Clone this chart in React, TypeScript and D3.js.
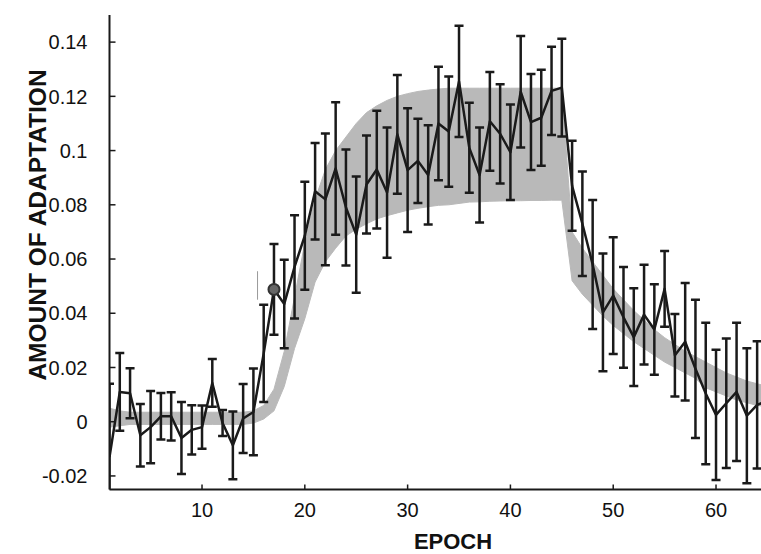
import * as d3 from 'd3';

const W = 761;
const H = 554;

// epochs 1..65
const epochs = d3.range(1, 66);

// mean adaptation per epoch
const meanAdapt = [
  -0.013, 0.011, 0.0105, -0.005, -0.002, 0.002, 0.002, -0.006, -0.003, -0.002,
  0.0143, -0.0005, -0.0087, 0.0012, 0.0036, 0.0252, 0.0488, 0.0434, 0.0571, 0.0686,
  0.085, 0.082, 0.0934, 0.079, 0.069, 0.0875, 0.093, 0.0845, 0.106, 0.0928,
  0.0962, 0.091, 0.11, 0.107, 0.1255, 0.101, 0.091, 0.1108, 0.1062, 0.0994,
  0.1217, 0.1105, 0.1121, 0.122, 0.1232, 0.087, 0.073, 0.058, 0.0403, 0.0465,
  0.0385, 0.0312, 0.0395, 0.034, 0.049, 0.0245, 0.0295, 0.0195, 0.0104, 0.0025,
  0.0068, 0.011, 0.0022, 0.0062, 0.0077,
];

// error bar half-width
const semAdapt = [
  0.027, 0.0143, 0.0092, 0.0115, 0.0133, 0.0086, 0.0089, 0.0133, 0.0091, 0.008,
  0.0088, 0.0048, 0.0125, 0.0127, 0.016, 0.0179, 0.0167, 0.0163, 0.019, 0.0199,
  0.0178, 0.0243, 0.0244, 0.0214, 0.0214, 0.0181, 0.0217, 0.024, 0.0219, 0.0228,
  0.0155, 0.0183, 0.0209, 0.0203, 0.0205, 0.0166, 0.0175, 0.0182, 0.0183, 0.0176,
  0.0206, 0.0177, 0.0177, 0.0163, 0.018, 0.0166, 0.0193, 0.0238, 0.0217, 0.0215,
  0.0186, 0.018, 0.0184, 0.0167, 0.014, 0.0152, 0.0217, 0.0255, 0.0261, 0.024,
  0.0239, 0.0255, 0.0249, 0.0235, 0.0188,
];

// model band (gray), upper and lower edge per epoch
const bandUpper = [
  0.005, 0.004, 0.0035, 0.0035, 0.0035, 0.0035, 0.0035, 0.0035, 0.0035, 0.0035,
  0.0035, 0.0035, 0.0035, 0.0035, 0.004, 0.006, 0.012, 0.026, 0.046, 0.066,
  0.082, 0.093, 0.1, 0.105, 0.11, 0.114, 0.1165, 0.1185, 0.12, 0.121,
  0.1218, 0.1223, 0.1227, 0.123, 0.123, 0.123, 0.123, 0.123, 0.123, 0.123,
  0.123, 0.123, 0.123, 0.123, 0.123, 0.07, 0.064, 0.059, 0.054, 0.049,
  0.045, 0.041, 0.0375, 0.034, 0.031, 0.0285, 0.026, 0.024, 0.022, 0.02,
  0.018, 0.0165, 0.015, 0.014, 0.013,
];

const bandLower = [
  -0.002, -0.0015, -0.001, -0.001, -0.001, -0.001, -0.001, -0.001, -0.001, -0.001,
  -0.001, -0.001, -0.001, -0.001, -0.0005, 0.001, 0.004, 0.013, 0.027, 0.038,
  0.0515, 0.059, 0.064, 0.0685, 0.071, 0.073, 0.0748, 0.076, 0.077, 0.078,
  0.0787, 0.0793, 0.0798, 0.08, 0.0805, 0.081, 0.0811, 0.0813, 0.0814, 0.0815,
  0.0815, 0.0816, 0.0816, 0.0817, 0.0817, 0.052, 0.047, 0.043, 0.039, 0.0355,
  0.0325, 0.0295, 0.027, 0.0245, 0.022, 0.02, 0.018, 0.016, 0.0125, 0.011,
  0.0095, 0.008, 0.007, 0.006, 0.0055,
];

const xTicks = [10, 20, 30, 40, 50, 60];
const yTicks = [-0.02, 0, 0.02, 0.04, 0.06, 0.08, 0.1, 0.12, 0.14];

// highlighted epoch (circle) and thin gray marker
const markedEpoch = 17;
const thinMarker = { epoch: 15.4, from: 0.045, to: 0.0555 };

const FONT = '"Liberation Sans", Arial, Helvetica, sans-serif';
const INK = '#1a1a1a';

// plain hyphen for negatives, like the original figure
const fmtY = (v: number) => d3.format('~g')(v).replace('\u2212', '-');

export default function App() {
  const left = 109.5;
  const top = 15;
  const bottom = 489.5;

  const x = d3.scaleLinear().domain([1, 65]).range([left, left + 64 * 10.28]);
  const y = d3.scaleLinear().domain([-0.025, 0.15]).range([bottom, top]);

  const rows = epochs.map((e, i) => ({
    e,
    m: meanAdapt[i],
    s: semAdapt[i],
    lo: bandLower[i],
    hi: bandUpper[i],
  }));

  const band = d3
    .area<any>()
    .x((d) => x(d.e))
    .y0((d) => y(d.lo))
    .y1((d) => y(d.hi));

  const meanLine = d3
    .line<any>()
    .x((d) => x(d.e))
    .y((d) => y(d.m));

  const cap = 4.5;
  const mark = rows.find((r) => r.e === markedEpoch)!;

  return (
    <div style={{ position: 'absolute', left: 0, top: 0, width: W, height: H, overflow: 'hidden', background: '#fff' }}>
      <svg width={W} height={H} style={{ display: 'block' }}>
        <defs>
          <clipPath id="plot">
            <rect x={left} y={top - 12} width={W - left + 20} height={bottom - top + 12} />
          </clipPath>
        </defs>

        <g clipPath="url(#plot)">
          <path d={band(rows) || ''} fill="#b9b9b9" stroke="#b9b9b9" strokeWidth={1} />

          <line
            x1={x(thinMarker.epoch)}
            x2={x(thinMarker.epoch)}
            y1={y(thinMarker.to)}
            y2={y(thinMarker.from)}
            stroke="#999"
            strokeWidth={1}
          />

          {rows.map((r) => (
            <g key={r.e} stroke={INK} strokeWidth={2.5} fill="none">
              <line x1={x(r.e)} x2={x(r.e)} y1={y(r.m + r.s)} y2={y(r.m - r.s)} />
              <line x1={x(r.e) - cap} x2={x(r.e) + cap} y1={y(r.m + r.s)} y2={y(r.m + r.s)} />
              <line x1={x(r.e) - cap} x2={x(r.e) + cap} y1={y(r.m - r.s)} y2={y(r.m - r.s)} />
            </g>
          ))}

          <path d={meanLine(rows) || ''} fill="none" stroke={INK} strokeWidth={2.5} strokeLinejoin="round" />

          <circle cx={x(mark.e)} cy={y(mark.m)} r={5.5} fill="#666" stroke="#333" strokeWidth={2} />
        </g>

        {/* axes */}
        <line x1={left} x2={W} y1={bottom} y2={bottom} stroke={INK} strokeWidth={2} />
        <line x1={left} x2={left} y1={top} y2={bottom} stroke={INK} strokeWidth={2} />

        {xTicks.map((t) => (
          <g key={t}>
            <line x1={x(t)} x2={x(t)} y1={bottom} y2={bottom - 5} stroke={INK} strokeWidth={1.5} />
            <text x={x(t)} y={517} textAnchor="middle" fontFamily={FONT} fontSize={20} fill="#111">
              {t}
            </text>
          </g>
        ))}

        {yTicks.map((t) => (
          <g key={t}>
            <line x1={left} x2={left + 6} y1={y(t)} y2={y(t)} stroke={INK} strokeWidth={1.5} />
            <text
              x={87.5}
              y={y(t)}
              dy="0.36em"
              textAnchor="end"
              fontFamily={FONT}
              fontSize={20}
              fill="#111"
            >
              {fmtY(t)}
            </text>
          </g>
        ))}

        <text x={453} y={549} textAnchor="middle" fontFamily={FONT} fontSize={22} fontWeight="bold" fill="#111">
          EPOCH
        </text>
        <text
          transform="translate(46, 225) rotate(-90)"
          textAnchor="middle"
          fontFamily={FONT}
          fontSize={24.5}
          fontWeight="bold"
          fill="#111"
        >
          AMOUNT OF ADAPTATION
        </text>
      </svg>
    </div>
  );
}
